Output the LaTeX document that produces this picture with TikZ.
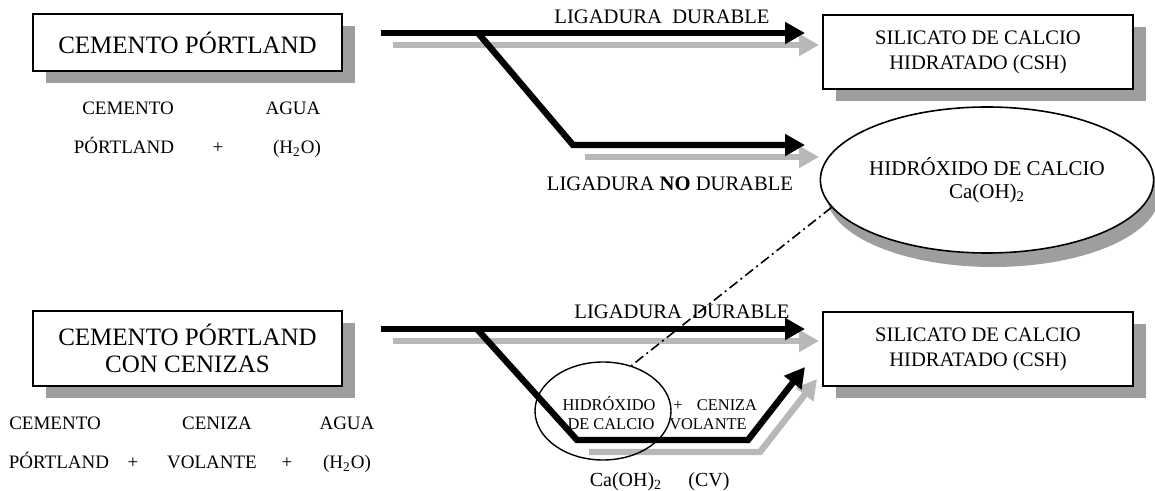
\documentclass[tikz,border=0pt]{standalone}
\usepackage{fontspec}
\setmainfont{Liberation Serif}
\usetikzlibrary{arrows.meta, shapes.geometric, shadows}

\begin{document}
\begin{tikzpicture}[
    x=0.5pt, y=-0.5pt,
    boxshadow/.style={drop shadow={shadow xshift=6.5pt, shadow yshift=-6pt, fill=black!38, opacity=1}},
    box/.style={draw, line width=1pt, fill=white, inner sep=0pt, align=center, minimum width=155pt, minimum height=37pt, boxshadow},
    bigbox/.style={box, minimum width=154.5pt, font=\fontsize{12.5}{13.5}\selectfont},
    prodbox/.style={box, font=\fontsize{10.3}{12.5}\selectfont},
    hidro/.style={ellipse, draw, line width=0.8pt, fill=white, inner sep=0pt, align=center, minimum width=165pt, minimum height=73pt,
        font=\fontsize{10.5}{11.5}\selectfont, drop shadow={shadow xshift=3pt, shadow yshift=-7pt, fill=black!38, opacity=1}},
    txt/.style={inner sep=0pt, text height=0.66em, text depth=0pt, font=\fontsize{9.5}{11}\selectfont},
    lbl/.style={txt, font=\fontsize{10.3}{12}\selectfont},
    smalltxt/.style={txt, font=\fontsize{8.2}{10}\selectfont},
    flow/.style={line width=3.2pt, line join=miter, -{Triangle[length=10pt, width=10.5pt]}},
    flowshade/.style={flow, black!28},
    link/.style={line width=0.8pt, dash pattern=on 5pt off 2pt on 1pt off 2pt}
]
    \useasboundingbox (0,0) rectangle (1155,491);

    % starting materials
    \node[bigbox, minimum height=28.5pt] (cp) at (187.5,42.5) {CEMENTO PÓRTLAND};
    \node[bigbox, minimum height=37.5pt] (cpc) at (187.5,348.5) {CEMENTO PÓRTLAND\\CON CENIZAS};

    \node[txt] (cem1) at (128,108) {CEMENTO};
    \node[txt] (agua1) at (293,108) {AGUA};
    \node[txt] (por1) at (124,147) {PÓRTLAND};
    \node[txt] (mas1) at (218,147) {+};
    \node[txt] (hdo1) at (297,147) {(H\textsubscript{2}O)};

    \node[txt] (cem2) at (55,423) {CEMENTO};
    \node[txt] (cen2) at (217,423) {CENIZA};
    \node[txt] (agua2) at (347,423) {AGUA};
    \node[txt] (por2) at (59,462) {PÓRTLAND};
    \node[txt] (mas2) at (133,462) {+};
    \node[txt] (vol2) at (212,462) {VOLANTE};
    \node[txt] (mas3) at (287,462) {+};
    \node[txt] (hdo2) at (347,462) {(H\textsubscript{2}O)};

    % products
    \node[prodbox] (csh) at (978,52) {SILICATO DE CALCIO\\HIDRATADO (CSH)};
    \node[prodbox] (cshc) at (978,349) {SILICATO DE CALCIO\\HIDRATADO (CSH)};
    \node[hidro] (ch) at (987,180) {HIDRÓXIDO DE CALCIO\\Ca(OH)\textsubscript{2}};

    % arrow route points
    \coordinate (a1s) at (381,33);
    \coordinate (a1b) at (478,33);
    \coordinate (a1e) at (805,33);
    \coordinate (a1k) at (573,145);
    \coordinate (a1f) at (805,145);
    \coordinate (a2s) at (381,329);
    \coordinate (a2b) at (477,329);
    \coordinate (a2e) at (805,329);
    \coordinate (a2k) at (577,440);
    \coordinate (a2m) at (748,440);
    \coordinate (a2f) at (805,367);

    % shadows under the arrows
    \draw[flowshade] ([shift={(12,12)}]a1s) -- ([shift={(14,12)}]a1e);
    \draw[flowshade] ([shift={(12,12)}]a1k) -- ([shift={(14,12)}]a1f);
    \draw[flowshade] ([shift={(12,12)}]a2s) -- ([shift={(14,12)}]a2e);
    \draw[flowshade] ([shift={(12,12)}]a2k) -- ([shift={(12,12)}]a2m) -- ([shift={(12,12)}]a2f);

    \draw[flow] (a1s) -- (a1e);
    \draw[flow] (a1b) -- (a1k) -- (a1f);
    \draw[flow] (a2s) -- (a2e);
    \draw[flow] (a2b) -- (a2k) -- (a2m) -- (a2f);

    \node[lbl] (lig1) at (662,17) {LIGADURA\ \ DURABLE};
    \node[lbl] (lig2) at (670,184) {LIGADURA\ \textbf{NO}\ DURABLE};
    \node[lbl] (lig3) at (682,312) {LIGADURA\ \ DURABLE};

    % reaction with the fly ash
    \node[ellipse, draw, line width=0.7pt, inner sep=0pt, minimum width=68pt, minimum height=49pt] (chs) at (603,411) {};
    \node[smalltxt] (hx) at (609,404) {HIDRÓXIDO};
    \node[smalltxt] (dc) at (611,423) {DE CALCIO};
    \node[smalltxt] (mas4) at (678,404) {+};
    \node[smalltxt] (cz) at (727,404) {CENIZA};
    \node[smalltxt] (vl) at (708,423) {VOLANTE};
    \node[txt, font=\fontsize{10}{12}\selectfont] (caoh) at (626,480) {Ca(OH)\textsubscript{2}};
    \node[txt, font=\fontsize{10}{12}\selectfont] (cv) at (709,480) {(CV)};

    \draw[link] (ch.190) -- (chs.58);
\end{tikzpicture}
\end{document}
